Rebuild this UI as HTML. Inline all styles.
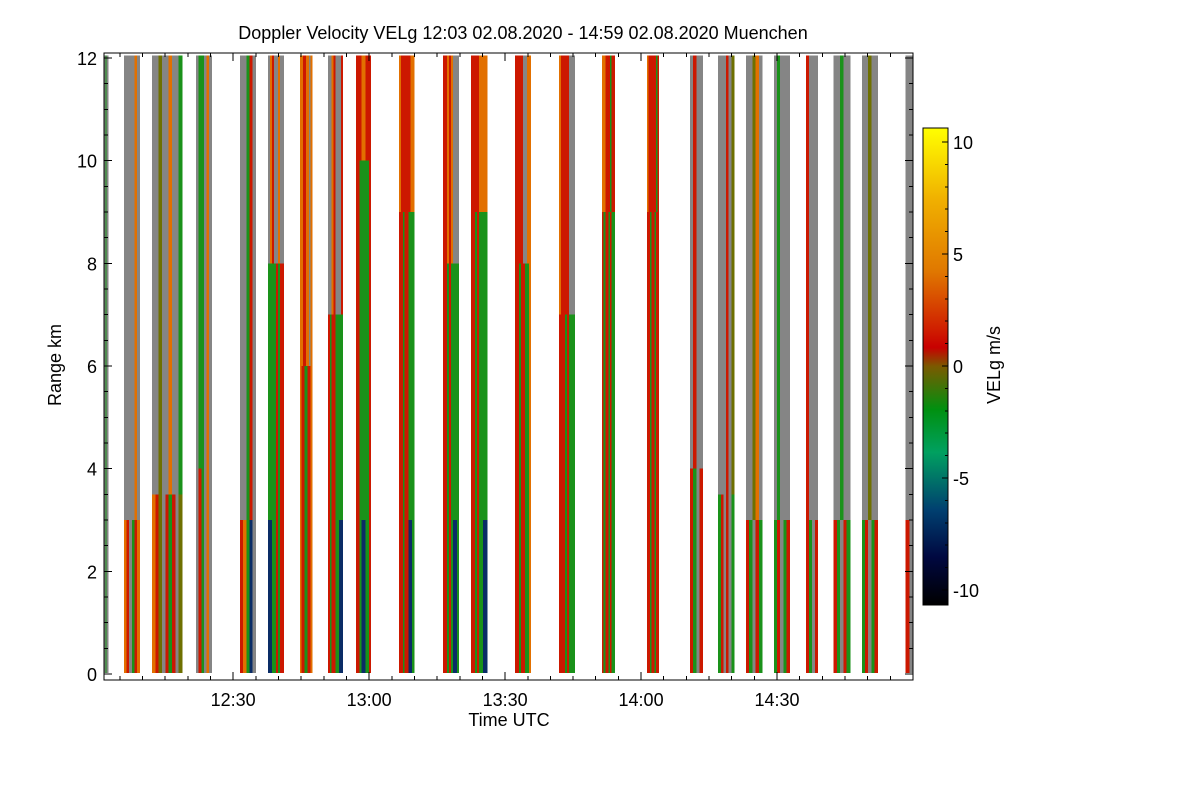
<!DOCTYPE html>
<html><head><meta charset="utf-8"><style>
body{margin:0;background:#fff;}
svg{display:block;font-family:"Liberation Sans",sans-serif;}
</style></head><body>
<svg id="chart" width="1200" height="800" shape-rendering="crispEdges">
<defs>
<linearGradient id="cb" x1="0" y1="0" x2="0" y2="1">
<stop offset="0" stop-color="#ffff00"/><stop offset="0.15" stop-color="#f0b000"/>
<stop offset="0.3" stop-color="#e07800"/><stop offset="0.42" stop-color="#d02000"/>
<stop offset="0.46" stop-color="#c80000"/><stop offset="0.5" stop-color="#7a5a00"/>
<stop offset="0.59" stop-color="#009010"/><stop offset="0.68" stop-color="#00a060"/>
<stop offset="0.8" stop-color="#004070"/><stop offset="0.9" stop-color="#000840"/>
<stop offset="1" stop-color="#000000"/>
</linearGradient>
</defs>
<text x="523" y="39" font-size="18" text-anchor="middle">Doppler Velocity VELg   12:03 02.08.2020 - 14:59 02.08.2020 Muenchen</text>
<g id="plot"></g>
<g id="axes"></g>
<text x="509" y="726" font-size="18" text-anchor="middle">Time UTC</text>
<text transform="translate(61,365) rotate(-90)" font-size="18" text-anchor="middle">Range km</text>
<rect x="923" y="128" width="25" height="477" fill="url(#cb)" stroke="#000" stroke-width="1"/>
<g id="cbticks"></g>
<text transform="translate(1000,365) rotate(-90)" font-size="18" text-anchor="middle">VELg m/s</text>
</svg>
<script>
// data: stripe times (minutes past 12:00), splits (km), blue tops (km), column color codes
const startMin = [121.5,125.9,132.1,141.8,151.5,157.7,164.7,170.9,177.1,186.6,196.3,202.5,212.2,221.9,231.4,241.3,250.8,257.0,263.1,269.3,276.4,282.5,288.7,298.4];
const endMin   = [122.4,129.4,138.7,145.3,155.0,161.2,167.4,174.2,180.4,189.9,199.8,206.0,215.7,225.4,234.2,243.9,253.6,260.5,266.7,272.8,279.0,286.1,292.2,300.0];
const splitKm  = [3,3,3.5,4,3,8,6,7,10,9,8,9,8,7,9,9,4,3.5,3,3,3,3,3,3];
const blueTopKm= [0,0,0,0,3,3,0,3,3,3,3,3,0,0,0,0,0,0,0,0,0,0,0,0];
const upperCols= ["AGA","AAAAOA","AALAAOAAG","AGGAOA","AAGRA","AORAAOAA","OORROOAO","AAORAAAR","RRROORRR","ORRRRROO","RROROAAA","RRRROOOO","RRRRAAOO","ORRRRAAA","OORRRGRR","ORRRRRGR","ARAA","AAARAL","AALOA","AGAAA","RAAA","AAGAA","AALAA","AA"];
const lowerCols= ["AGA","ORAGRO","ORLARGRAL","ARGAOA","ROGBA","BBGGRGRR","ORRGGRRO","RGRRGGBB","RRGBBGGR","RRGRRBBG","RRGRGBBG","RRGRGGBB","RRGRRGGO","RRRGRGGG","RGRRGRGG","RRGRRGRR","RGAR","GRARAG","RGARG","GRAGR","RGAR","RGARG","GRAGR","RA"];
const rangeTopKm = 12.05, rangeBotKm = 0.02;
const xTickMin = [150,180,210,240,270];
const xTickLabels = ["12:30","13:00","13:30","14:00","14:30"];
const yTicks = [0,2,4,6,8,10,12];
const cbTicks = [10,5,0,-5,-10];

const NS="http://www.w3.org/2000/svg";
const X0=104,X1=913,T0=121.5,T1=300;
const xs=m=>X0+(m-T0)*(X1-X0)/(T1-T0);
const ys=k=>674-k*(674-58)/12;
const cbY=v=>366-v*22.4;
const COL={R:"#cc1800",O:"#e27000",G:"#1a921a",A:"#858585",L:"#6e7000",B:"#0a2c66",Y:"#f0d000"};
const plot=document.getElementById('plot');
function rect(p,x,y,w,h,f){const r=document.createElementNS(NS,'rect');r.setAttribute('x',x);r.setAttribute('y',y);r.setAttribute('width',w);r.setAttribute('height',h);r.setAttribute('fill',f);p.appendChild(r);return r;}
function line(p,x1,y1,x2,y2){const l=document.createElementNS(NS,'line');l.setAttribute('x1',x1);l.setAttribute('y1',y1);l.setAttribute('x2',x2);l.setAttribute('y2',y2);l.setAttribute('stroke','#000');l.setAttribute('stroke-width','1');p.appendChild(l);return l;}
function text(p,x,y,s,anchor,size){const t=document.createElementNS(NS,'text');t.setAttribute('x',x);t.setAttribute('y',y);t.setAttribute('font-size',size||18);t.setAttribute('text-anchor',anchor);t.textContent=s;p.appendChild(t);return t;}

for(let i=0;i<startMin.length;i++){
  const g=document.createElementNS(NS,'g');
  
  
  plot.appendChild(g);
  const xa=xs(startMin[i]),xb=xs(endMin[i]),w=xb-xa;
  const yt=ys(rangeTopKm),ysp=ys(splitKm[i]),yb=ys(rangeBotKm),ybl=ys(blueTopKm[i]);
  const up=upperCols[i],lo=lowerCols[i];
  for(let c=0;c<up.length;c++){
    const cw=w/up.length;
    rect(g,xa+c*cw,yt,cw+0.3,ysp-yt,COL[up[c]]);
  }
  for(let c=0;c<lo.length;c++){
    const cw=w/lo.length,cx=xa+c*cw,code=lo[c];
    if(code==='B'){
      rect(g,cx,ysp,cw+0.3,ybl-ysp,COL.G);
      rect(g,cx,ybl,cw+0.3,yb-ybl,COL.B);
    } else rect(g,cx,ysp,cw+0.3,yb-ysp,COL[code]);
  }
}
const ax=document.getElementById('axes');
const fr=rect(ax,104,53,809,627,'none');fr.setAttribute('stroke','#000');
for(let m=125;m<=300;m+=5){
  const x=xs(m),maj=xTickMin.includes(m);
  line(ax,x,680,x,680-(maj?8:4));line(ax,x,53,x,53+(maj?8:4));
}
xTickMin.forEach((m,i)=>text(ax,xs(m),706,xTickLabels[i],'middle'));
for(let k=0;k<=12;k+=0.5){
  const y=ys(k),maj=(k%2===0);
  line(ax,104,y,104+(maj?8:4),y);line(ax,913,y,913-(maj?8:4),y);
}
yTicks.forEach(k=>text(ax,97,ys(k)+7,String(k),'end'));
const cbt=document.getElementById('cbticks');
for(let v=-10;v<=10;v++){const y=cbY(v);line(cbt,948,y,948-(v%5===0?6:3),y);}
cbTicks.forEach(v=>text(cbt,953,cbY(v)+7,String(v),'start'));
</script>
</body></html>
